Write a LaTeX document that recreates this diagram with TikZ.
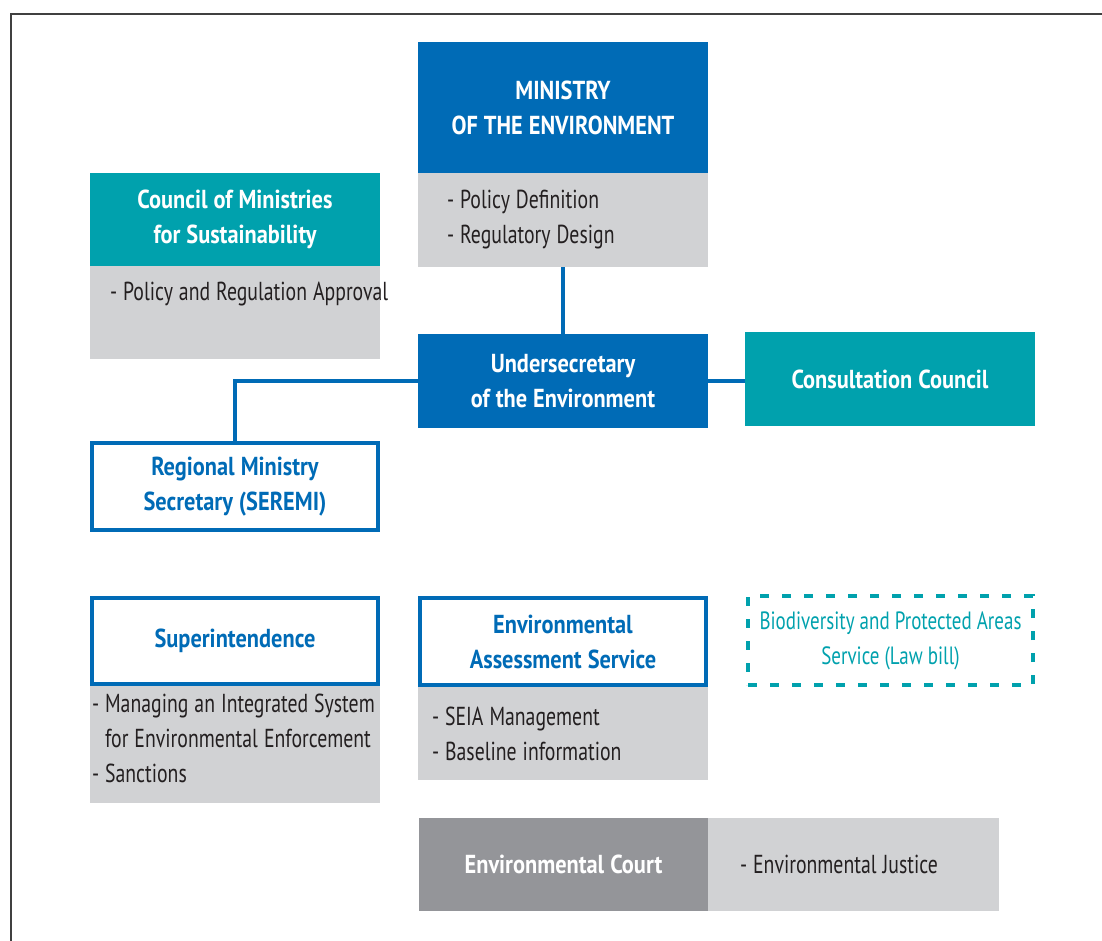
\documentclass[tikz,border=0pt]{standalone}
\usepackage{fontspec}
\setmainfont{PT Sans}[FakeStretch=0.76,BoldFeatures={FakeStretch=0.86}]
\usetikzlibrary{positioning}

\definecolor{envblue}{RGB}{0,107,182}
\definecolor{envteal}{RGB}{0,161,173}
\definecolor{bodygray}{RGB}{209,210,212}
\definecolor{courtgray}{RGB}{148,149,153}
\definecolor{textdark}{RGB}{35,31,32}
\newcommand{\chartfont}{\fontsize{26}{35}\selectfont\spaceskip=6pt\relax}

\begin{document}
\begin{tikzpicture}[x=1pt,y=-1pt,font=\chartfont,
    every node/.style={inner sep=0pt,outer sep=0pt},
    headbox/.style={fill=#1,text=white,font=\chartfont\bfseries,
        minimum width=290pt,minimum height=93pt,align=center,anchor=north west},
    linebox/.style={draw=envblue,line width=4pt,text=envblue,font=\chartfont\bfseries,
        minimum width=286pt,minimum height=87pt,align=center,anchor=north west},
    bodybox/.style={fill=bodygray,text=textdark,minimum width=290pt,align=flush left},
    link/.style={draw=envblue,line width=4.5pt}]
    \useasboundingbox (0,0) rectangle (1102,941);
    \draw [black!75,line width=1.4pt] (1102,14) -- (11,14) -- (11,941);

    % ministry and its tasks
    \node [headbox=envblue,minimum height=131pt] (ministry) at (418,42) {MINISTRY\\OF THE ENVIRONMENT};
    \node [bodybox,below=0pt of ministry,minimum height=94pt,inner xsep=29pt,text width=232pt] (ministrybody)
        {- Policy Definition\\- Regulatory Design};

    % council of ministries
    \node [headbox=envteal] (council) at (90,173) {Council of Ministries\\for Sustainability};
    \node [bodybox,below=0pt of council,text height=34pt,text depth=59pt,inner xsep=20pt,text width=250pt] (councilbody)
        {\mbox{- Policy and Regulation Approval}};

    % undersecretary row
    \node [headbox=envblue,minimum height=94pt] (under) at (418,334) {Undersecretary\\of the Environment};
    \node [headbox=envteal,minimum height=94pt] (consult) at (745,332) {Consultation Council};
    \node [linebox] (seremi) at (92,443) {Regional Ministry\\Secretary (SEREMI)};

    % services
    \node [linebox,minimum height=86pt] (superint) at (92,598) {Superintendence};
    \node [bodybox,below=2pt of superint,minimum height=117pt,inner xsep=2pt,text width=286pt] (superintbody)
        {\mbox{- Managing an Integrated System}\\\mbox{\hphantom{- }for Environmental Enforcement}\\- Sanctions\par\vspace{12pt}};
    \node [linebox] (eas) at (420,598) {Environmental\\Assessment Service};
    \node [bodybox,below=2pt of eas,minimum height=93pt,inner xsep=14pt,text width=262pt] (easbody)
        {- SEIA Management\\- Baseline information};
    \node [draw=envteal,line width=4pt,dash pattern=on 9pt off 13pt,text=envteal,font=\fontsize{25}{35}\selectfont,
        minimum height=89pt,text width=285pt,align=flush center,anchor=north west] (biodiv) at (748,596)
        {Biodiversity and Protected Areas\\Service (Law bill)};

    % court
    \node [headbox=courtgray,minimum width=289pt] (court) at (419,818) {Environmental Court};
    \node [bodybox,right=0pt of court,minimum height=93pt,minimum width=291pt,inner xsep=32pt,text width=227pt] (courtbody)
        {- Environmental Justice};

    % connectors
    \draw [link] (ministrybody.south) -- (under.north);
    \draw [link] (under.east) -- (under.east -| consult.west);
    \draw [link] (under.west) -| (seremi.north);
\end{tikzpicture}
\end{document}
